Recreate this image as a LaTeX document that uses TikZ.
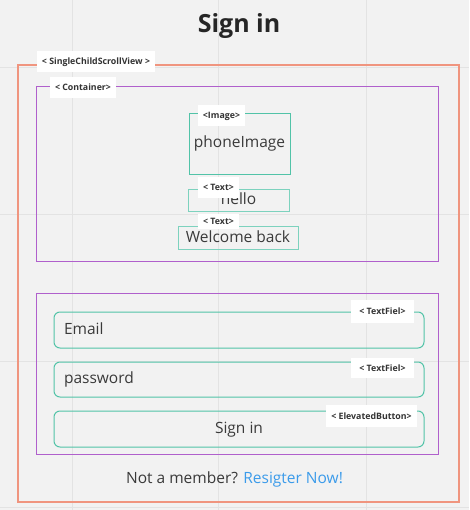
\documentclass[tikz,border=0pt]{standalone}
\usepackage{fontspec}
\setmainfont{Open Sans}
\usepackage{tikz}
\definecolor{canvas}{HTML}{F2F2F2}
\definecolor{gridln}{HTML}{E3E3E3}
\definecolor{scrollc}{HTML}{F0957F}
\definecolor{contc}{HTML}{B060CC}
\definecolor{widgc}{HTML}{52C3A8}
\definecolor{inkc}{HTML}{3A3A3A}
\definecolor{linkc}{HTML}{3B9BEA}
\tikzset{
  frame/.style={draw=#1, line width=1pt, inner sep=0pt, outer sep=0pt},
  field/.style={frame=widgc, rounded corners=6pt, minimum width=370pt, minimum height=36pt},
  tag/.style={fill=white, inner sep=0pt, text=black!80, font=\fontsize{8.8}{9}\selectfont\bfseries, text height=6.3pt, text depth=0pt},
}
\tikzstyle{every node}=[font=\fontsize{15.5}{17}\selectfont, text=inkc, text height=11pt, text depth=3pt]

\begin{document}
\begin{tikzpicture}[x=1pt,y=-1pt]
    \fill[canvas] (0,0) rectangle (469,510);
    \useasboundingbox (0,0) rectangle (469,510);
    \foreach \gx in {72,218,366} \draw[gridln,line width=0.8pt] (\gx,0) -- (\gx,510);
    \foreach \gy in {67,214,361,507} \draw[gridln,line width=0.8pt] (0,\gy) -- (469,\gy);

    \node[font=\fontsize{25}{28}\selectfont\bfseries, text=black!85, text height=18pt, text depth=0pt] (title) at (239,23.5) {Sign in};

    % scroll view
    \node[frame=scrollc, line width=1.2pt, minimum width=441pt, minimum height=437pt] (scroll) at (238.5,283.5) {};
    \node[tag, minimum width=118pt, minimum height=21pt] (scrolltag) at (96,61.5) {< SingleChildScrollView >};

    % container
    \node[frame=contc, minimum width=402pt, minimum height=174pt] (cont) at (237,174) {};
    \node[tag, minimum width=66pt, minimum height=21pt] (conttag) at (83,87.5) {< Container>};
    \node[frame=widgc, minimum width=101pt, minimum height=61pt, text depth=5pt] (img) at (239.5,144.5) {phoneImage};
    \node[tag, minimum width=47pt, minimum height=21pt] (imgtag) at (221.5,115.5) {<Image>};
    \node[frame=widgc!75, minimum width=101pt, minimum height=22pt, text height=10pt] (hello) at (238.5,201) {hello};
    \node[tag, minimum width=41pt, minimum height=21pt] (hellotag) at (218.5,187.5) {< Text>};
    \node[frame=widgc!75, minimum width=120pt, minimum height=22pt] (welcome) at (238,238) {Welcome back};
    \node[tag, minimum width=41pt, minimum height=15pt] (welcometag) at (218.5,221.5) {< Text>};

    % form
    \node[frame=contc, minimum width=402pt, minimum height=161pt] (form) at (237,373.5) {};
    \node[field, text width=350pt, align=left] (email) at (239,330) {Email};
    \node[tag, minimum width=63pt, minimum height=23pt] (emailtag) at (382.5,311.5) {< TextFiel>};
    \node[field, minimum height=35pt, text width=350pt, align=left] (pass) at (239,379.5) {password};
    \node[tag, minimum width=63pt, minimum height=20pt] (passtag) at (382.5,368) {< TextFiel>};
    \node[field] (btn) at (239,429) {Sign in};
    \node[tag, minimum width=91pt, minimum height=22pt] (btntag) at (371.5,416) {< ElevatedButton>};

    \node (footer) at (234.5,479) {Not a member? \textcolor{linkc}{Resigter Now!}};
\end{tikzpicture}
\end{document}
